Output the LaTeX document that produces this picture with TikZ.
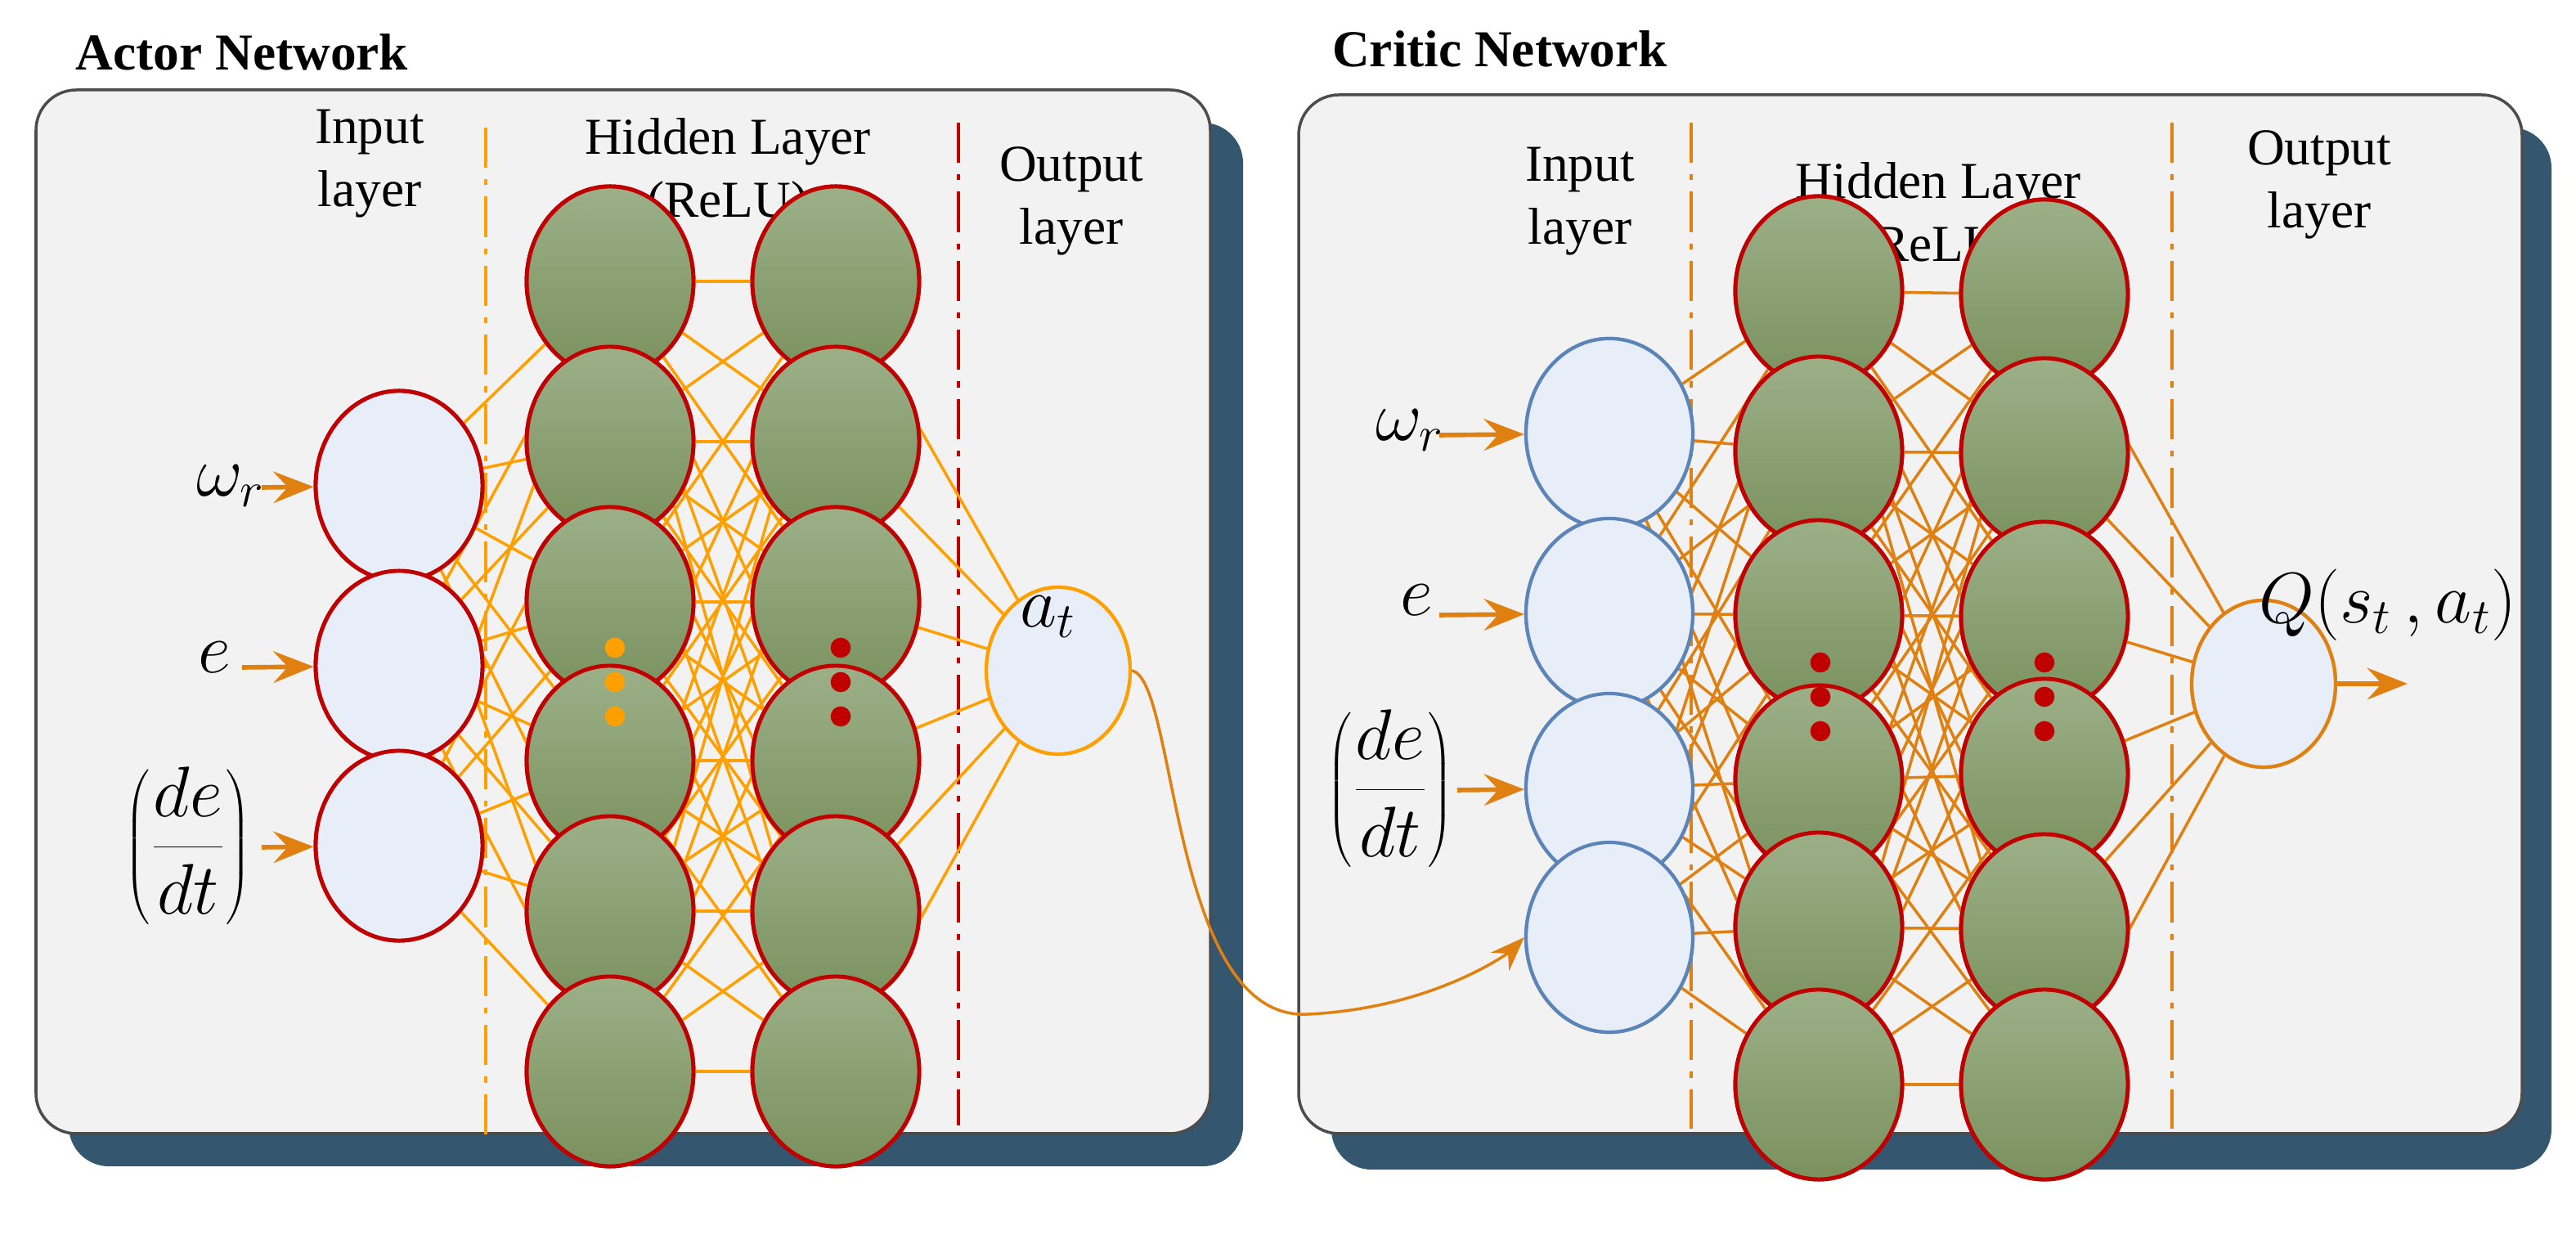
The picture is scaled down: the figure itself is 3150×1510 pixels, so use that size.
\documentclass[tikz,border=0pt]{standalone}
\usepackage{fontspec}
\setmainfont{Liberation Serif}
\usetikzlibrary{arrows.meta,calc,shapes.geometric}
\definecolor{shadowc}{HTML}{34566F}
\definecolor{panel}{HTML}{F2F2F2}
\definecolor{aline}{HTML}{FFA000}
\definecolor{cline}{HTML}{E08010}
\definecolor{nred}{HTML}{C00000}
\definecolor{gtop}{HTML}{9CB088}
\definecolor{gbot}{HTML}{7A915E}
\definecolor{infill}{HTML}{E8EEF8}
\definecolor{inblue}{HTML}{5B84B8}
\begin{document}
\begin{tikzpicture}[x=0.01cm,y=-0.01cm,
  hid/.style={ellipse,draw=nred,line width=1.4pt,top color=gtop,bottom color=gbot,minimum width=58,minimum height=66,inner sep=0},
  ina/.style={ellipse,draw=nred,line width=1.4pt,fill=infill,minimum width=58,minimum height=66,inner sep=0},
  inc/.style={ellipse,draw=inblue,line width=1.2pt,fill=infill,minimum width=58,minimum height=66,inner sep=0},
  outn/.style={ellipse,draw=cline,line width=1.2pt,fill=infill,minimum width=50,minimum height=58,inner sep=0},
  aedge/.style={aline,line width=1pt},
  cedge/.style={cline,line width=1pt},
  inarrow/.style={cline,line width=1.6pt,-{Stealth[length=14pt,width=11pt,inset=5pt]}},
  lbl/.style={font=\fontsize{18}{22}\selectfont,align=center},
  ttl/.style={font=\fontsize{18}{22}\selectfont\bfseries},
  mlbl/.style={font=\fontsize{24}{28}\selectfont},
  div/.style={line width=1.2pt,dash pattern=on 14pt off 4pt on 2pt off 4pt},
  dot/.style={circle,inner sep=0,minimum size=7pt}]
\useasboundingbox (0,0) rectangle (3150,1510);
% shadows and panels
\fill[shadowc,rounded corners=14pt] (84,150) rectangle (1520,1426);
\draw[black!70,line width=1pt,fill=panel,rounded corners=14pt] (44,110) rectangle (1480,1386);
\fill[shadowc,rounded corners=14pt] (1628,156) rectangle (3120,1430);
\draw[black!70,line width=1pt,fill=panel,rounded corners=14pt] (1588,116) rectangle (3084,1386);
\node[ttl] (at) at (296,64) {Actor Network};
\node[ttl] (ct) at (1834,60) {Critic Network};
% ===== Actor =====
\draw[aline,div] (594,156) -- (594,1390);
\draw[nred,div] (1172,150) -- (1172,1376);
\node[lbl] (al1) at (452,200) {Input\\layer};
\node[lbl] (al2) at (890,212) {Hidden Layer\\(ReLU)};
\node[lbl] (al3) at (1310,246) {Output\\layer};
\foreach \i/\y in {1/594,2/814,3/1034} \node[ina] (ai\i) at (488,\y) {};
\foreach \i/\y in {1/344,2/540,3/736,4/930,5/1114,6/1310} {
  \node[hid] (ah\i) at (746,\y) {};
  \node[hid] (ag\i) at (1022,\y) {};}
\node[outn,draw=aline] (ao) at (1294,820) {};
\foreach \i in {1,2,3} \foreach \j in {1,...,6} \draw[aedge] (ai\i) -- (ah\j);
\foreach \i in {1,...,6} \foreach \j in {1,...,6} \draw[aedge] (ah\i) -- (ag\j);
\foreach \j in {1,...,6} \draw[aedge] (ag\j) -- (ao);
\foreach \i in {1,2,3} \node[ina] at (ai\i) {};
\foreach \i in {1,...,6} {\node[hid] at (ah\i) {}; \node[hid] at (ag\i) {};}
\node[outn,draw=aline] at (ao) {};
\foreach \k/\y in {1/792,2/834,3/876} {
  \node[dot,fill=aline] (adh\k) at (752,\y) {};
  \node[dot,fill=nred] (adg\k) at (1028,\y) {};}
\node[mlbl] (aw) at (282,594) {$\omega_r$};
\node[mlbl] (ae) at (262,804) {$e$};
\node[mlbl] (ad) at (230,1034) {$\displaystyle\left(\frac{de}{dt}\right)$};
\coordinate (awa) at (320,596);
\coordinate (aea) at (296,816);
\coordinate (ada) at (320,1036);
\draw[inarrow] (awa) -- (ai1);
\draw[inarrow] (aea) -- (ai2);
\draw[inarrow] (ada) -- (ai3);
\node[mlbl] (atl) at (1282,754) {$a_t$};
% ===== Critic =====
\draw[cline,div] (2068,150) -- (2068,1380);
\draw[cline,div] (2656,150) -- (2656,1380);
\node[lbl] (cl1) at (1932,246) {Input\\layer};
\node[lbl] (cl2) at (2370,266) {Hidden Layer\\(ReLU)};
\node[lbl] (cl3) at (2836,226) {Output\\layer};
\foreach \i/\y in {1/530,2/750,3/964,4/1146} \node[inc] (ci\i) at (1968,\y) {};
\foreach \i/\y/\z in {1/356/360,2/552/554,3/752/754,4/954/946,5/1134/1136,6/1326/1326} {
  \node[hid] (ch\i) at (2224,\y) {};
  \node[hid] (cg\i) at (2500,\z) {};}
\node[outn] (co) at (2768,836) {};
\foreach \i in {1,...,4} \foreach \j in {1,...,6} \draw[cedge] (ci\i) -- (ch\j);
\foreach \i in {1,...,6} \foreach \j in {1,...,6} \draw[cedge] (ch\i) -- (cg\j);
\foreach \j in {1,...,6} \draw[cedge] (cg\j) -- (co);
\foreach \i in {1,...,4} \node[inc] at (ci\i) {};
\foreach \i in {1,...,6} {\node[hid] at (ch\i) {}; \node[hid] at (cg\i) {};}
\node[outn] at (co) {};
\foreach \k/\y in {1/810,2/852,3/894} {
  \node[dot,fill=nred] (cdh\k) at (2226,\y) {};
  \node[dot,fill=nred] (cdg\k) at (2500,\y) {};}
\node[mlbl] (cw) at (1724,526) {$\omega_r$};
\node[mlbl] (ce) at (1732,734) {$e$};
\node[mlbl] (cd) at (1700,964) {$\displaystyle\left(\frac{de}{dt}\right)$};
\coordinate (cwa) at (1760,532);
\coordinate (cea) at (1760,752);
\coordinate (cda) at (1782,966);
\coordinate (cqa) at (2944,836);
\draw[inarrow] (cwa) -- (ci1);
\draw[inarrow] (cea) -- (ci2);
\draw[inarrow] (cda) -- (ci3);
\draw[inarrow] (co) -- (cqa);
\node[mlbl] (cq) at (2920,740) {$Q(s_t\,,a_t)$};
% link actor output -> critic input 4
\draw[cline,line width=1pt,-{Stealth[length=12pt,width=9pt,inset=4pt]}] (ao.east) .. controls (1440,830) and (1430,1250) .. (1600,1240) .. controls (1760,1232) and (1850,1160) .. (ci4.west);
\end{tikzpicture}
\end{document}
